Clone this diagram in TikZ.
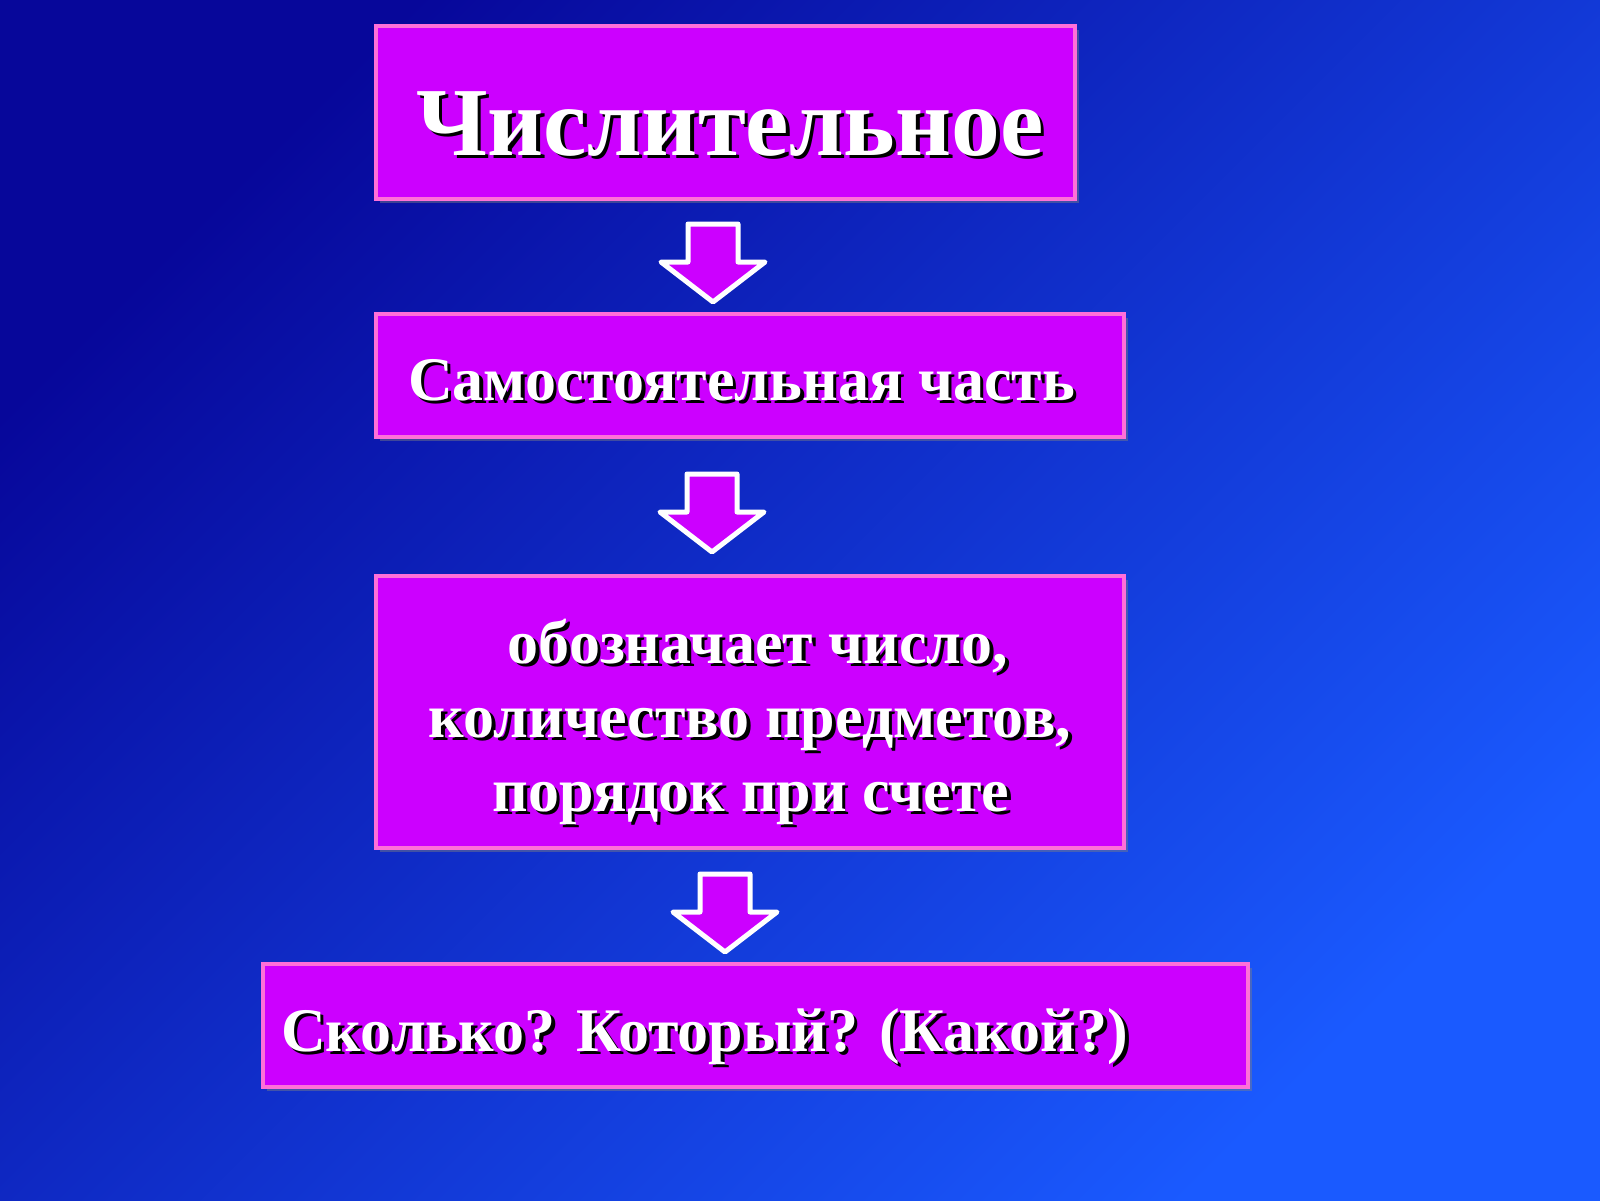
\documentclass[tikz,border=0pt]{standalone}
\usepackage{fontspec}
\setmainfont{Liberation Serif}
\usetikzlibrary{shadows}
\definecolor{bgdark}{HTML}{07079A}
\definecolor{bglight}{HTML}{1A5AFF}
\definecolor{boxfill}{HTML}{CC00FF}
\definecolor{boxline}{HTML}{FF70D8}
\newcommand\shd[1]{\makebox[0pt][l]{\kern3.5pt\raisebox{-3.5pt}{\color{black}#1}}#1}
\newcommand\shtxt[5]{% name, anchor, position, size, content
  \node[txt, anchor=#2, font=\bfseries\fontsize{#4}{#4}\selectfont] (#1) at (#3) {\shd{#5}};}
\newcommand\blockarr[2]{% name, top centre
  \coordinate (#1) at (#2);
  \draw[blockarrow] (#1) ++(-25,0) -- ++(50,0) -- ++(0,38) -- ++(27,0) -- ++(-52,40) -- ++(-52,-40) -- ++(27,0) -- cycle;}
\begin{document}
\begin{tikzpicture}[x=1pt,y=-1pt,
  box/.style={draw=boxline, line width=4pt, fill=boxfill, inner sep=0pt,
    drop shadow={shadow xshift=4pt, shadow yshift=-4pt, opacity=0.45}},
  txt/.style={text=white, inner sep=0pt},
  blockarrow/.style={draw=white, line width=5pt, line join=round, fill=boxfill}]
\useasboundingbox (0,0) rectangle (1600,1200);
\shade[top color=bgdark, bottom color=bglight, shading angle=45] (0,0) rectangle (1600,1200);
% boxes
\node[box, minimum width=699pt, minimum height=173.5pt] (b1) at (725.5,112.25) {};
\node[box, minimum width=748pt, minimum height=123pt] (b2) at (750,375.5) {};
\node[box, minimum width=748pt, minimum height=272pt] (b3) at (750,712) {};
\node[box, minimum width=985pt, minimum height=123pt] (b4) at (755.5,1025.5) {};
% texts
\shtxt{t1}{base west}{416,155}{97.5}{Числительное}
\shtxt{t2}{base west}{408,400}{62}{Самостоятельная часть}
\shtxt{t3a}{base}{758,663}{62}{обозначает число,}
\shtxt{t3b}{base}{750,737}{62}{количество предметов,}
\shtxt{t3c}{base}{751,811}{62}{порядок при счете}
\shtxt{t4}{base west}{281,1051}{62}{Сколько? Который? (Какой?)}
% arrows
\blockarr{a1}{713,224}
\blockarr{a2}{712,474}
\blockarr{a3}{725,874}
\end{tikzpicture}
\end{document}
